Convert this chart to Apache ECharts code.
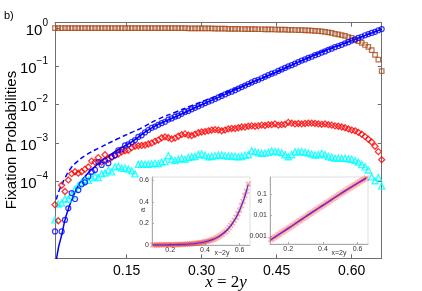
<!DOCTYPE html>
<html><head><meta charset="utf-8">
<script src="https://cdn.jsdelivr.net/npm/echarts@6/dist/echarts.min.js"></script>
<style>html,body{margin:0;padding:0;background:#fff}#c{width:422px;height:291px}</style>
</head><body><div id="c"></div>
<script>
// x = 2y grid
const xs = [0.0067,0.0133,0.02,0.0267,0.0333,0.04,0.0467,0.0533,0.06,0.0667,
 0.0733,0.08,0.0867,0.0933,0.1,0.1067,0.1133,0.12,0.1267,0.1333,
 0.14,0.1467,0.1533,0.16,0.1667,0.1733,0.18,0.1867,0.1933,0.2,
 0.2067,0.2133,0.22,0.2267,0.2333,0.24,0.2467,0.2533,0.26,0.2667,
 0.2733,0.28,0.2867,0.2933,0.3,0.3067,0.3133,0.32,0.3267,0.3333,
 0.34,0.3467,0.3533,0.36,0.3667,0.3733,0.38,0.3867,0.3933,0.4,
 0.4067,0.4133,0.42,0.4267,0.4333,0.44,0.4467,0.4533,0.46,0.4667,
 0.4733,0.48,0.4867,0.4933,0.5,0.5067,0.5133,0.52,0.5267,0.5333,
 0.54,0.5467,0.5533,0.56,0.5667,0.5733,0.58,0.5867,0.5933,0.6,
 0.6067,0.6133,0.62,0.6267,0.6333,0.64,0.6467,0.6533,0.66];
// brown squares
const brownSq = [0.99,0.99,0.99,0.99,0.99,0.99,0.99,0.99,0.99,0.99,
 0.99,0.99,0.99,0.99,0.99,0.99,0.99,0.99,0.99,0.99,
 0.99,0.99,0.99,0.99,0.99,0.99,0.99,0.99,0.99,0.99,
 0.99,0.99,0.99,0.99,0.99,0.99,0.99,0.99,0.985,0.985,
 0.98,0.98,0.98,0.98,0.975,0.975,0.97,0.97,0.965,0.96,
 0.955,0.955,0.95,0.95,0.945,0.945,0.94,0.935,0.935,0.93,
 0.93,0.925,0.925,0.92,0.92,0.915,0.91,0.905,0.9,0.9,
 0.895,0.89,0.885,0.88,0.875,0.865,0.86,0.85,0.84,0.83,
 0.81,0.79,0.77,0.74,0.70,0.68,0.65,0.62,0.58,0.55,
 0.49,0.45,0.41,0.36,0.32,0.265,0.20,0.15,0.075];
// blue circles
const blueCirc = [5.0e-6,null,5.0e-6,1.0e-5,2.0e-5,5.0e-5,3.5e-5,6.0e-5,8.5e-5,9.5e-5,
 1.35e-4,1.8e-4,2.0e-4,3.2e-4,2.7e-4,3.5e-4,3.0e-4,4.4e-4,4.8e-4,6.5e-4,
 6.8e-4,8.7e-4,9.3e-4,1.07e-3,1.2e-3,1.45e-3,1.6e-3,1.9e-3,2.2e-3,2.5e-3,
 2.7e-3,3.0e-3,3.3e-3,3.6e-3,4.1e-3,4.4e-3,4.9e-3,5.2e-3,5.8e-3,6.5e-3,
 6.9e-3,7.6e-3,8.3e-3,9.1e-3,0.0100,0.0110,0.0120,0.0129,0.0141,0.0155,
 0.0170,0.0186,0.0204,0.0219,0.0240,0.0263,0.0288,0.0316,0.0347,0.0380,
 0.0417,0.0447,0.0490,0.0537,0.0589,0.0646,0.0692,0.0759,0.0832,0.0912,
 0.100,0.107,0.117,0.129,0.141,0.151,0.166,0.178,0.195,0.209,
 0.229,0.245,0.269,0.288,0.316,0.339,0.363,0.398,0.427,0.468,
 0.501,0.550,0.589,0.646,0.692,0.741,0.794,0.871,0.933];
// blue solid line (theory)
const theoryX = [0.0067,0.0133,0.02,0.0267,0.0333,0.04,0.0467,0.0533,0.06,0.0733,0.0867,0.1,0.12,0.14,0.16,0.2,0.25,0.3,0.35,0.4,0.45,0.5,0.55,0.6,0.66];
const theoryY = [5e-7,1.8e-6,4e-6,1e-5,1.9e-5,3.3e-5,5.2e-5,7.9e-5,1.07e-4,1.7e-4,2.45e-4,3.47e-4,5.25e-4,7.6e-4,1.07e-3,2.5e-3,5.0e-3,0.010,0.0195,0.038,0.071,0.141,0.27,0.468,0.93];
// blue dashed line
const dashX = [0.0093,0.016,0.026,0.036,0.05,0.07,0.096,0.13,0.16,0.18,0.213,0.246,0.28,0.32,0.36,0.4,0.5,0.6,0.66];
const dashY = [3.4e-5,6.3e-5,1.17e-4,2.0e-4,3.2e-4,5.0e-4,7.6e-4,1.26e-3,1.9e-3,2.5e-3,4.2e-3,6.3e-3,9.5e-3,0.0151,0.024,0.038,0.141,0.468,0.93];
// red diamonds
const redDia = [2.5e-5,9.5e-6,8e-5,5.5e-5,1.1e-4,1.6e-4,1.8e-4,1.65e-4,1.8e-4,2.1e-4,
 2.4e-4,3.4e-4,3.2e-4,4.2e-4,3.2e-4,5.0e-4,3.8e-4,4.2e-4,4.8e-4,5.2e-4,
 5.9e-4,6.3e-4,6.5e-4,7.6e-4,8.3e-4,8.5e-4,8.7e-4,8.9e-4,9.5e-4,1.0e-3,
 1.12e-3,1.2e-3,1.38e-3,1.45e-3,1.38e-3,1.29e-3,1.35e-3,1.51e-3,1.66e-3,1.74e-3,
 1.62e-3,1.58e-3,1.7e-3,1.86e-3,1.95e-3,2.0e-3,2.09e-3,2.19e-3,2.24e-3,2.19e-3,
 2.09e-3,2.19e-3,2.34e-3,2.4e-3,2.4e-3,2.51e-3,2.63e-3,2.63e-3,2.75e-3,2.82e-3,
 2.75e-3,2.82e-3,2.95e-3,2.88e-3,3.02e-3,3.02e-3,3.16e-3,2.95e-3,3.02e-3,3.09e-3,
 3.47e-3,3.31e-3,3.16e-3,3.24e-3,3.16e-3,3.24e-3,3.31e-3,3.31e-3,3.24e-3,3.16e-3,
 3.09e-3,3.16e-3,3.02e-3,2.95e-3,2.82e-3,2.75e-3,2.63e-3,2.51e-3,2.34e-3,2.19e-3,
 2.09e-3,1.91e-3,1.7e-3,1.48e-3,1.26e-3,1.07e-3,8.3e-4,6.0e-4,3.7e-4];
// cyan triangles
const cyanTri = [1.0e-5,2.6e-5,2.75e-5,3.5e-5,3.5e-5,4.4e-5,6.3e-5,7.9e-5,9.5e-5,1.1e-4,
 1.07e-4,1.26e-4,1.38e-4,1.26e-4,1.58e-4,1.66e-4,2.0e-4,1.78e-4,2.4e-4,2.5e-4,
 2.24e-4,2.2e-4,2.1e-4,1.9e-4,1.58e-4,2.8e-4,2.9e-4,2.8e-4,2.8e-4,2.9e-4,
 3.0e-4,2.9e-4,3.2e-4,3.3e-4,4.7e-4,3.8e-4,3.5e-4,3.8e-4,4.0e-4,3.8e-4,
 4.2e-4,4.4e-4,4.5e-4,5.0e-4,5.2e-4,4.8e-4,4.4e-4,4.5e-4,4.7e-4,4.8e-4,
 4.9e-4,4.7e-4,4.6e-4,4.6e-4,4.5e-4,4.4e-4,4.5e-4,4.8e-4,5.0e-4,6.3e-4,
 6.0e-4,5.6e-4,5.4e-4,5.5e-4,5.75e-4,6.2e-4,6.0e-4,5.9e-4,5.6e-4,5.0e-4,
 4.4e-4,5.0e-4,5.9e-4,5.9e-4,6.0e-4,5.75e-4,5.5e-4,5.2e-4,4.9e-4,5.0e-4,
 5.4e-4,5.0e-4,4.5e-4,4.3e-4,4.0e-4,4.1e-4,4.0e-4,4.0e-4,3.9e-4,3.8e-4,
 3.5e-4,3.2e-4,2.75e-4,2.4e-4,2.0e-4,1.32e-4,1.05e-4,1.26e-4,7.6e-5];
// insets: a vs x = 2y
const insetX = [0.10,0.11,0.12,0.13,0.14,0.15,0.16,0.17,0.18,0.19,0.20,0.21,0.22,0.23,0.24,0.25,0.26,0.27,0.28,0.29,
 0.30,0.31,0.32,0.33,0.34,0.35,0.36,0.37,0.38,0.39,0.40,0.41,0.42,0.43,0.44,0.45,0.46,0.47,0.48,0.49,
 0.50,0.51,0.52,0.53,0.54,0.55,0.56,0.57,0.58,0.59,0.60,0.61,0.62,0.63,0.64,0.65];
const insetA = [7.1e-4,7.8e-4,9.2e-4,1.0e-3,1.16e-3,1.28e-3,1.49e-3,1.65e-3,1.88e-3,2.12e-3,
 2.42e-3,2.67e-3,3.11e-3,3.45e-3,4.0e-3,4.44e-3,5.16e-3,5.7e-3,6.65e-3,7.36e-3,
 8.55e-3,9.5e-3,0.0111,0.0122,0.0139,0.0157,0.0179,0.0199,0.023,0.0256,
 0.029,0.0329,0.0374,0.0415,0.0482,0.0534,0.0606,0.0688,0.078,0.0886,
 0.1,0.113,0.125,0.142,0.161,0.183,0.203,0.23,0.256,0.29,
 0.323,0.365,0.405,0.459,0.498,0.565];
const fitX = [0.10,0.15,0.20,0.25,0.30,0.35,0.40,0.45,0.50,0.55,0.60,0.65];
const fitA = [7e-4,1.3e-3,2.4e-3,4.5e-3,8.5e-3,0.016,0.029,0.054,0.1,0.18,0.32,0.56];
// tick labels
const xTicks = [0.15,0.30,0.45,0.60];
const yTicks = [1e-4,1e-3,1e-2,1e-1,1];
const insetXTicks = [0.2,0.4,0.6];
const inset1YTicks = [0,0.2,0.4,0.6];
const inset2YTicks = [0.001,0.01,0.1];

const zip = (a,b)=>a.map((x,i)=>[x,b[i]]);
const AX = '#6f6f6f';
const FONT = '"Liberation Sans", Arial, sans-serif';
const chart = echarts.init(document.getElementById('c'), null, {renderer:'canvas'});
const supMap = {'0':'0','1':'−1','2':'−2','3':'−3','4':'−4'};
const mainX = (pos, show) => ({gridIndex:0, type:'value', position:pos, min:0.0067, max:0.66,
  axisLine:{onZero:false, lineStyle:{color:AX, width:1}},
  axisTick:{inside:true, length:4, customValues:xTicks, lineStyle:{color:AX}},
  axisLabel:{show:show, customValues:xTicks, formatter:v=>v.toFixed(2), fontSize:14, color:'#000', margin:6, fontFamily:FONT},
  splitLine:{show:false}});
const mainY = (pos, show) => ({gridIndex:0, type:'log', logBase:10, position:pos, min:1e-6, max:1.37,
  axisLine:{onZero:false, lineStyle:{color:AX, width:1}},
  axisTick:{inside:true, length:4, customValues:yTicks, lineStyle:{color:AX}},
  axisLabel:{show:show, customValues:yTicks, margin:7,
    formatter:v=>{const e=Math.round(-Math.log10(v)); return '{b|10}{s|'+(e===0?'0':'−'+e)+'}';},
    rich:{b:{fontSize:15, fontFamily:FONT, color:'#000', lineHeight:20, verticalAlign:'bottom'},
          s:{fontSize:10, fontFamily:FONT, color:'#000', lineHeight:10, verticalAlign:'top'}}},
  splitLine:{show:false}, minorTick:{show:false}});
const insetAxisCommon = {axisLine:{onZero:false, lineStyle:{color:'#aaa', width:1}},
  splitLine:{show:false}};
const insetXAx = (g) => Object.assign({gridIndex:g, type:'value', min:0.095, max:0.66,
  axisTick:{inside:true, length:2, customValues:insetXTicks, lineStyle:{color:'#aaa'}},
  axisLabel:{customValues:insetXTicks, formatter:v=>v.toFixed(1), fontSize:7, color:'#333', margin:2, fontFamily:FONT}}, insetAxisCommon);

const option = {
  animation:false,
  backgroundColor:'#fff',
  grid:[
    {left:55, top:22.7, right:40.3, bottom:32.7},
    {left:152, top:177, width:98, height:68, show:true, backgroundColor:'#fff', borderColor:'#ddd', borderWidth:1},
    {left:270, top:177, width:98, height:67, show:true, backgroundColor:'#fff', borderColor:'#ddd', borderWidth:1}
  ],
  xAxis:[mainX('bottom', true), mainX('top', false), insetXAx(1), insetXAx(2)],
  yAxis:[mainY('left', true), mainY('right', false),
    Object.assign({gridIndex:1, type:'value', min:0, max:0.63,
      axisTick:{inside:true, length:2, customValues:inset1YTicks, lineStyle:{color:'#aaa'}},
      axisLabel:{customValues:inset1YTicks, formatter:v=>v===0?'0':v.toFixed(1), fontSize:7, color:'#333', margin:3, fontFamily:FONT}}, insetAxisCommon),
    Object.assign({gridIndex:2, type:'log', logBase:10, min:4.4e-4, max:0.63,
      axisTick:{inside:true, length:2, customValues:inset2YTicks, lineStyle:{color:'#aaa'}},
      axisLabel:{customValues:inset2YTicks, formatter:v=>v<0.005?'0.001':(v<0.05?'0.01':'0.1'), fontSize:7, color:'#333', margin:3, fontFamily:FONT}}, insetAxisCommon)
  ],
  series:[
    {type:'line', xAxisIndex:0, yAxisIndex:0, data:zip(dashX,dashY), showSymbol:false, smooth:true,
      lineStyle:{color:'#0000ff', width:1.5, type:[5,3]}, z:2},
    {type:'line', xAxisIndex:0, yAxisIndex:0, data:zip(theoryX,theoryY), showSymbol:false, smooth:true,
      lineStyle:{color:'#0000ff', width:1.5}, z:2},
    {type:'scatter', xAxisIndex:0, yAxisIndex:0, data:zip(xs,brownSq), symbol:'rect', symbolSize:4.5,
      itemStyle:{color:'transparent', borderColor:'#a84a1a', borderWidth:1.2}, z:3},
    {type:'scatter', xAxisIndex:0, yAxisIndex:0, data:zip(xs,cyanTri), symbol:'triangle', symbolSize:6,
      itemStyle:{color:'transparent', borderColor:'#00ffff', borderWidth:1.4}, z:3},
    {type:'scatter', xAxisIndex:0, yAxisIndex:0, data:zip(xs,redDia), symbol:'diamond', symbolSize:6,
      itemStyle:{color:'transparent', borderColor:'#ff0000', borderWidth:1.3}, z:3},
    {type:'scatter', xAxisIndex:0, yAxisIndex:0, data:zip(xs,blueCirc), symbol:'circle', symbolSize:5,
      itemStyle:{color:'transparent', borderColor:'#0000ff', borderWidth:1.2}, z:3},
    {type:'scatter', xAxisIndex:2, yAxisIndex:2, data:zip(insetX,insetA),
      symbol:'path://M0,2L2,0L5,3L8,0L10,2L7,5L10,8L8,10L5,7L2,10L0,8L3,5Z', symbolSize:6,
      itemStyle:{color:'rgba(255,40,40,0.45)'}, z:4},
    {type:'line', xAxisIndex:2, yAxisIndex:2, data:zip(fitX,fitA), showSymbol:false, smooth:true,
      lineStyle:{color:'#5a2fd6', width:1.3}, z:5},
    {type:'scatter', xAxisIndex:3, yAxisIndex:3, data:zip(insetX,insetA),
      symbol:'path://M0,2L2,0L5,3L8,0L10,2L7,5L10,8L8,10L5,7L2,10L0,8L3,5Z', symbolSize:6,
      itemStyle:{color:'rgba(255,40,40,0.45)'}, z:4},
    {type:'line', xAxisIndex:3, yAxisIndex:3, data:zip(fitX,fitA), showSymbol:false, smooth:true,
      lineStyle:{color:'#5a2fd6', width:1.3}, z:5}
  ],
  graphic:[
    {type:'text', left:4, top:10, style:{text:'b)', font:'11px '+FONT, fill:'#000'}},
    {type:'text', x:12, y:140, rotation:Math.PI/2, style:{text:'Fixation Probabilities', font:'15px '+FONT, fill:'#000', align:'center', verticalAlign:'middle'}},
    {type:'text', x:226, y:283, style:{text:'{i|x} = 2{i|y}', font:'17px "Liberation Serif", serif', fill:'#000', align:'center', verticalAlign:'middle',
      rich:{i:{font:'italic 17px "Liberation Serif", serif', fill:'#000'}}}},
    {type:'text', x:143, y:210, rotation:Math.PI/2, style:{text:'a', font:'8px '+FONT, fill:'#333', align:'center', verticalAlign:'middle'}},
    {type:'text', x:260, y:201, rotation:Math.PI/2, style:{text:'a', font:'8px '+FONT, fill:'#333', align:'center', verticalAlign:'middle'}},
    {type:'text', x:222, y:253.5, style:{text:'x−2y', font:'7px '+FONT, fill:'#333', align:'center', verticalAlign:'middle'}, z:10},
    {type:'text', x:339, y:253.5, style:{text:'x=2y', font:'7px '+FONT, fill:'#333', align:'center', verticalAlign:'middle'}, z:10}
  ]
};
chart.setOption(option);
</script></body></html>
